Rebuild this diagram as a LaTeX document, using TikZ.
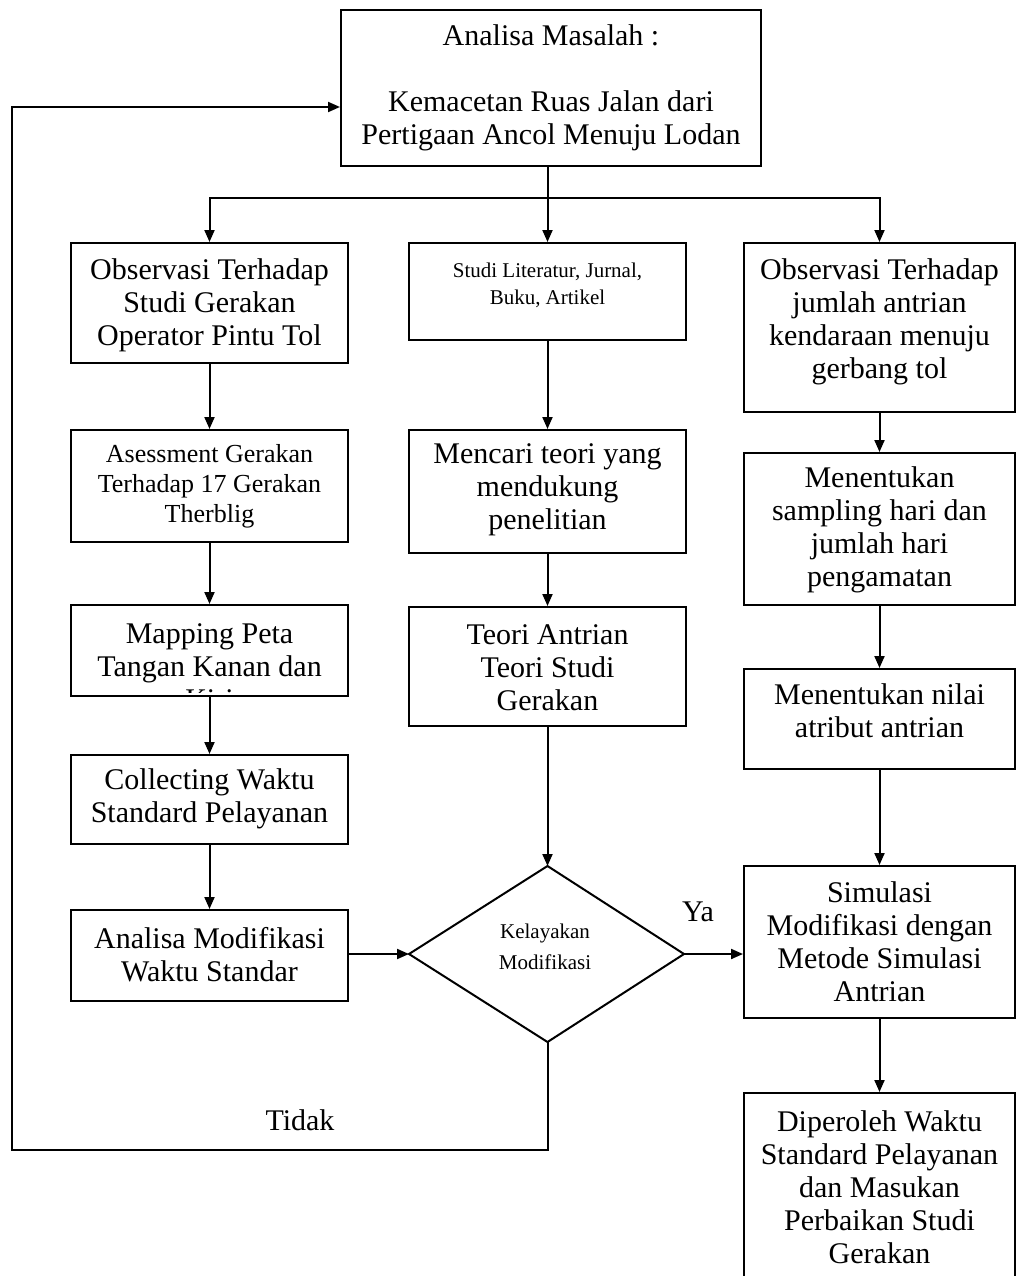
\documentclass[tikz,border=0pt]{standalone}
\usepackage{fontspec}
\setmainfont{Liberation Serif}
\usetikzlibrary{arrows.meta}
\begin{document}
\begin{tikzpicture}[x=1pt,y=-1pt,
  box/.style={draw=black,line width=2pt,inner sep=0pt},
  txt/.style={align=center,inner sep=0pt,font=\fontsize{30}{33}\selectfont},
  smalltxt/.style={align=center,inner sep=0pt,font=\fontsize{26}{30}\selectfont},
  tinytxt/.style={align=center,inner sep=0pt,font=\fontsize{21}{27}\selectfont},
  arr/.style={line width=2pt,-{Triangle[length=12pt,width=10pt]}},
  ln/.style={line width=2pt}]
\useasboundingbox (0,0) rectangle (1016,1276);
% boxes
\node[box,minimum width=420pt,minimum height=156pt] (T) at (551,88) {};
\node[box,minimum width=277pt,minimum height=120pt] (L1) at (209.5,303) {};
\node[box,minimum width=277pt,minimum height=112pt] (L2) at (209.5,486) {};
\node[box,minimum width=277pt,minimum height=91pt] (L3) at (209.5,650.5) {};
\node[box,minimum width=277pt,minimum height=89pt] (L4) at (209.5,799.5) {};
\node[box,minimum width=277pt,minimum height=91pt] (L5) at (209.5,955.5) {};
\node[box,minimum width=277pt,minimum height=97pt] (M1) at (547.5,291.5) {};
\node[box,minimum width=277pt,minimum height=123pt] (M2) at (547.5,491.5) {};
\node[box,minimum width=277pt,minimum height=119pt] (M3) at (547.5,666.5) {};
\node[box,minimum width=271pt,minimum height=169pt] (R1) at (879.5,327.5) {};
\node[box,minimum width=271pt,minimum height=152pt] (R2) at (879.5,529) {};
\node[box,minimum width=271pt,minimum height=100pt] (R3) at (879.5,719) {};
\node[box,minimum width=271pt,minimum height=152pt] (R4) at (879.5,942) {};
\node[box,minimum width=271pt,minimum height=207pt] (R5) at (879.5,1196.5) {};
% diamond
\coordinate (Dl) at (409,954);
\coordinate (Dt) at (547.5,866);
\coordinate (Dr) at (684,954);
\coordinate (Db) at (547.5,1042);
\draw[ln,line join=miter] (Dl) -- (Dt) -- (Dr) -- (Db) -- cycle;
% texts
\node[txt] (Tt) at (551,88) {Analisa Masalah :\\[33pt]Kemacetan Ruas Jalan dari\\Pertigaan Ancol Menuju Lodan};
\node[txt] (L1t) at (209.5,305) {Observasi Terhadap\\Studi Gerakan\\Operator Pintu Tol};
\node[smalltxt] (L2t) at (209.5,486) {Asessment Gerakan\\Terhadap 17 Gerakan\\Therblig};
\begin{scope}
\clip (72,606) rectangle (347,692);
\node[txt] (L3t) at (209.5,667) {Mapping Peta\\Tangan Kanan dan\\Kiri};
\end{scope}
\node[txt] (L4t) at (209.5,799) {Collecting Waktu\\Standard Pelayanan};
\node[txt] (L5t) at (209.5,955) {Analisa Modifikasi\\Waktu Standar};
\node[tinytxt] (M1t) at (547.5,285) {Studi Literatur, Jurnal,\\Buku, Artikel};
\node[txt] (M2t) at (547.5,490) {Mencari teori yang\\mendukung\\penelitian};
\node[txt] (M3t) at (547.5,668) {Teori Antrian\\Teori Studi\\Gerakan};
\node[tinytxt,font=\fontsize{21}{31}\selectfont] (Dt2) at (545,947) {Kelayakan\\Modifikasi};
\node[txt] (R1t) at (879.5,322) {Observasi Terhadap\\jumlah antrian\\kendaraan menuju\\gerbang tol};
\node[txt] (R2t) at (879.5,530) {Menentukan\\sampling hari dan\\jumlah hari\\pengamatan};
\node[txt] (R3t) at (879.5,711) {Menentukan nilai\\atribut antrian};
\node[txt] (R4t) at (879.5,942) {Simulasi\\Modifikasi dengan\\Metode Simulasi\\Antrian};
\node[txt] (R5t) at (879.5,1187) {Diperoleh Waktu\\Standard Pelayanan\\dan Masukan\\Perbaikan Studi\\Gerakan};
\node[txt] (ya) at (698,912) {Ya};
\node[txt] (tidak) at (300,1120) {Tidak};
% connectors
\coordinate (split) at (547.5,198);
\draw[ln] (T.south -| split) -- (split);
\draw[arr] (split) -| (L1.north);
\draw[arr] (split) -- (M1.north);
\draw[arr] (split) -| (R1.north);
\draw[arr] (L1) -- (L2);
\draw[arr] (L2) -- (L3);
\draw[arr] (L3) -- (L4);
\draw[arr] (L4) -- (L5);
\draw[arr] (L5.east |- Dl) -- (Dl);
\draw[arr] (M1) -- (M2);
\draw[arr] (M2) -- (M3);
\draw[arr] (M3) -- (Dt);
\draw[arr] (R1) -- (R2);
\draw[arr] (R2) -- (R3);
\draw[arr] (R3) -- (R4);
\draw[arr] (R4) -- (R5);
\draw[arr] (Dr) -- (R4.west |- Dr);
\coordinate (c1) at (12,1150);
\coordinate (c2) at (12,107);
\draw[arr,line join=miter] (Db) |- (c1) -- (c2) -- (T.west |- c2);
\end{tikzpicture}
\end{document}
